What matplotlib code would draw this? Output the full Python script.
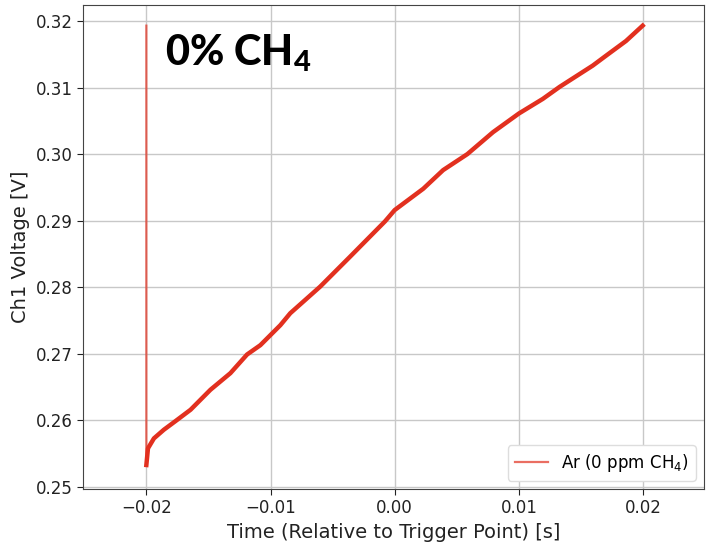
import matplotlib
matplotlib.use("Agg")
import matplotlib.pyplot as plt

# trace (first point is the wrap-around sample at the top)
time_s = [-0.0200, -0.0200, -0.01987, -0.01939, -0.01859, -0.01765, -0.01644,
          -0.01484, -0.01323, -0.01189, -0.01082, -0.00921, -0.00841, -0.0060,
          -0.00359, -0.00078, 0.0, 0.0023, 0.0039, 0.00585, 0.00792, 0.0100,
          0.01193, 0.01328, 0.01595, 0.01703, 0.01863, 0.01997]
volt = [0.3193, 0.2533, 0.2558, 0.2573, 0.2586, 0.2599, 0.2616,
        0.2646, 0.2671, 0.2699, 0.2713, 0.2743, 0.2761, 0.2801,
        0.2846, 0.2899, 0.2916, 0.2948, 0.2976, 0.3000, 0.3033, 0.3061,
        0.3083, 0.3101, 0.3133, 0.3148, 0.3170, 0.3193]
label = "Ar (0 ppm CH$_4$)"
title = "0% CH$_\\mathbf{4}$"
color = "#e2301f"

plt.rcParams["mathtext.fontset"] = "custom"
plt.rcParams["mathtext.rm"] = "DejaVu Sans"
plt.rcParams["mathtext.bf"] = "Lato:black"

fig = plt.figure(figsize=(7.06, 5.45), dpi=100)
ax = fig.add_axes([0.1176, 0.1028, 0.8794, 0.888])

ax.plot(time_s, volt, lw=1.6, color=color, alpha=0.7, label=label)
ax.plot(time_s[1:], volt[1:], lw=3.2, color=color)

ax.set_xlim(-0.0251, 0.0249)
ax.set_ylim(0.2497, 0.3224)
ax.set_xticks([-0.02, -0.01, 0.0, 0.01, 0.02])
ax.set_yticks([0.25, 0.26, 0.27, 0.28, 0.29, 0.30, 0.31, 0.32])
ax.set_yticklabels([f"{v:.2f}" for v in ax.get_yticks()])
ax.grid(True, color="#c8c8c8", lw=1.0)
ax.set_axisbelow(True)
for s in ax.spines.values():
    s.set_color("#444444")
ax.tick_params(labelsize=12, colors="#222222", length=4)
ax.set_xlabel("Time (Relative to Trigger Point) [s]", fontsize=14, color="#222222")
ax.set_ylabel("Ch1 Voltage [V]", fontsize=14, color="#222222")

ax.text(0.132, 0.945, title, transform=ax.transAxes, ha="left", va="top",
        fontsize=30, fontweight="black", family="Lato")

ax.legend(loc="lower right", fontsize=12, handlelength=2.0, framealpha=1,
          edgecolor="#dddddd")

fig.savefig("out.png", dpi=100)
